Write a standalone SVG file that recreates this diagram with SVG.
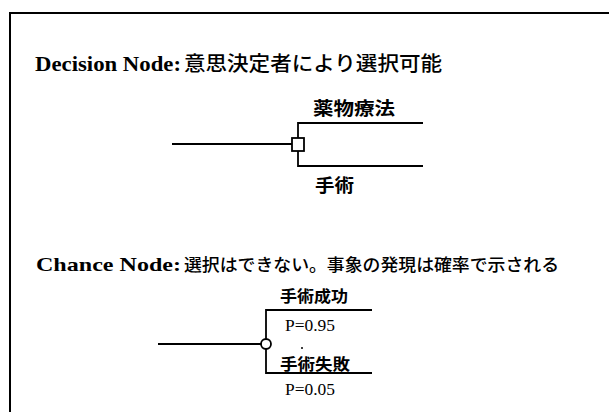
<svg xmlns="http://www.w3.org/2000/svg" width="609" height="412" viewBox="0 0 609 412">
<style>
.ln{stroke:#000;stroke-width:1.8;fill:none}
.lat{font-family:"Liberation Serif","Times New Roman",serif;font-weight:bold;fill:#000}
.jp{font-family:"Noto Sans CJK JP","Noto Sans CJK SC",sans-serif;font-weight:500;fill:#000}
.jpb{font-family:"Noto Sans CJK JP","Noto Sans CJK SC",sans-serif;font-weight:bold;fill:#000}
.p{font-family:"Liberation Serif","Times New Roman",serif;font-size:16px;fill:#000}
</style>
<rect width="609" height="412" fill="#fff"/>
<g id="frame">
<line x1="9" y1="13" x2="609" y2="13" stroke="#000" stroke-width="2"/>
<line x1="10" y1="12" x2="10" y2="412" stroke="#000" stroke-width="2"/>
</g>
<g id="title-decision">
<text class="lat" x="35" y="71" font-size="21" textLength="146" lengthAdjust="spacingAndGlyphs">Decision Node:</text>
<text class="jp" x="184" y="71" font-size="20" textLength="258" lengthAdjust="spacingAndGlyphs">意思決定者により選択可能</text>
</g>
<g id="title-chance">
<text class="lat" x="36" y="271" font-size="19" textLength="145" lengthAdjust="spacingAndGlyphs">Chance Node:</text>
<text class="jp" x="184" y="271" font-size="17.5" textLength="375" lengthAdjust="spacingAndGlyphs">選択はできない。事象の発現は確率で示される</text>
</g>
<g id="connectors">
<line class="ln" x1="172" y1="144" x2="292" y2="144"/>
<polyline class="ln" points="423,123 298,123 298,138"/>
<polyline class="ln" points="298,151 298,166 423,166"/>
<line class="ln" x1="158" y1="344" x2="261" y2="344"/>
<polyline class="ln" points="372,310 266,310 266,339"/>
<polyline class="ln" points="266,349 266,373 372,373"/>
</g>
<g id="decision-node">
<rect x="292" y="138" width="12" height="13" fill="#fff" stroke="#000" stroke-width="1.8"/>
</g>
<g id="option-drug">
<text class="jpb" x="313" y="115" font-size="18" textLength="82" lengthAdjust="spacingAndGlyphs">薬物療法</text>
</g>
<g id="option-surgery">
<text class="jpb" x="315" y="192" font-size="18" textLength="39" lengthAdjust="spacingAndGlyphs">手術</text>
</g>
<g id="chance-node">
<circle cx="266" cy="344" r="5" fill="#fff" stroke="#000" stroke-width="1.8"/>
</g>
<g id="outcome-success">
<text class="jpb" x="280" y="302" font-size="16" textLength="68" lengthAdjust="spacingAndGlyphs">手術成功</text>
<text class="p" x="285" y="331" textLength="50" lengthAdjust="spacingAndGlyphs">P=0.95</text>
</g>
<circle cx="302" cy="348" r="1" fill="#000"/>
<g id="outcome-failure">
<text class="jpb" x="280" y="370" font-size="16" textLength="70" lengthAdjust="spacingAndGlyphs">手術失敗</text>
<text class="p" x="285" y="395" textLength="50" lengthAdjust="spacingAndGlyphs">P=0.05</text>
</g>
</svg>
